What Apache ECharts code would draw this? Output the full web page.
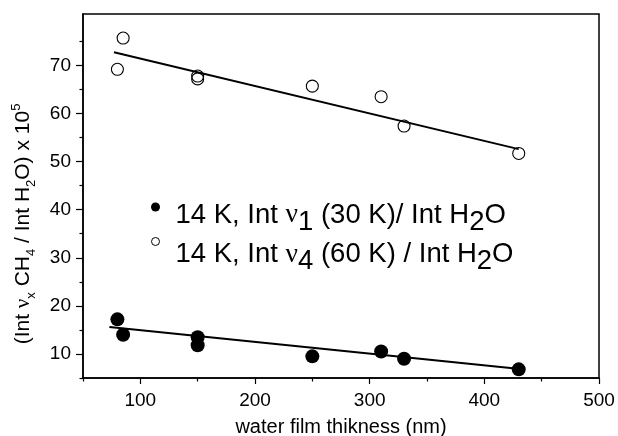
<!DOCTYPE html>
<html>
<head>
<meta charset="utf-8">
<script src="https://cdn.jsdelivr.net/npm/echarts@6/dist/echarts.min.js"></script>
<style>
html,body{margin:0;padding:0;background:#fff;}
#chart{width:618px;height:436px;}
</style>
</head>
<body>
<div id="chart"></div>
<script>
// ---- data ----
const filledX = [80, 85, 150, 150, 250, 310, 330, 430];
const filledY = [17.2, 14.0, 13.5, 11.8, 9.5, 10.5, 9.0, 6.8];
const openX = [80, 85, 150, 150, 250, 310, 330, 430];
const openY = [69.2, 75.7, 67.8, 67.2, 65.7, 63.5, 57.4, 51.7];
// fitted straight lines (end points)
const fitFilledX = [73, 427];
const fitFilledY = [15.6, 7.0];
const fitOpenX = [77, 430];
const fitOpenY = [72.75, 52.6];
// ticks
const xMajorTicks = [100, 200, 300, 400, 500];
const xMinorTicks = [50, 150, 250, 350, 450];
const yMajorTicks = [10, 20, 30, 40, 50, 60, 70];
const yMinorTicks = [5, 15, 25, 35, 45, 55, 65, 75];
const xRange = [50, 500];
const yRange = [5, 80.7];
const nameFilled = '14 K, Int v1 (30 K)/ Int H2O';
const nameOpen = '14 K, Int v4 (60 K) / Int H2O';

const pairs = (xs, ys) => xs.map((x, i) => [x, ys[i]]);
const FONT = 'Liberation Sans, Arial, sans-serif';

const chart = echarts.init(document.getElementById('chart'), null, {renderer: 'canvas'});

const legendRich = {
  m: {fontSize: 27.5, fontFamily: FONT, color: '#000', lineHeight: 31, verticalAlign: 'top'},
  nu: {fontSize: 27.5, fontFamily: 'Liberation Serif, serif', color: '#000', lineHeight: 31, verticalAlign: 'top'},
  s: {fontSize: 27.5, fontFamily: FONT, color: '#000', lineHeight: 31, verticalAlign: 'top', padding: [7, 0, 0, 0]}
};
function legendFmt(name) {
  if (name === nameFilled) return '{m|14 K, Int }{nu|ν}{s|1}{m| (30 K)/ Int H}{s|2}{m|O}';
  return '{m|14 K, Int }{nu|ν}{s|4}{m| (60 K) / Int H}{s|2}{m|O}';
}

const option = {
  backgroundColor: '#fff',
  animation: false,
  grid: {left: 83, right: 19, top: 14, bottom: 58, outerBoundsMode: 'none', containLabel: false,
         show: true, borderColor: '#000', borderWidth: 1.5, backgroundColor: 'transparent'},
  legend: [
    {
      data: [{name: nameFilled, icon: 'circle', itemStyle: {color: '#000'}, textStyle: {padding: [19, 0, 0, 0]}}],
      left: 151, top: 201, padding: 0, itemWidth: 30, itemHeight: 9,
      formatter: legendFmt, textStyle: {rich: legendRich}, selectedMode: false
    },
    {
      data: [{name: nameOpen, icon: 'circle', itemStyle: {color: '#fff', borderColor: '#000', borderWidth: 1}, textStyle: {padding: [29, 0, 0, 0]}}],
      left: 151, top: 237, padding: 0, itemWidth: 30, itemHeight: 8,
      formatter: legendFmt, textStyle: {rich: legendRich}, selectedMode: false
    }
  ],
  xAxis: [
    {
      type: 'value', min: xRange[0], max: xRange[1], position: 'bottom',
      name: 'water film thikness (nm)', nameLocation: 'middle', nameGap: 39,
      nameTextStyle: {fontSize: 20, fontFamily: FONT, color: '#000'},
      axisLine: {show: true, onZero: false, lineStyle: {color: '#000', width: 1.5}},
      axisTick: {show: true, customValues: xMajorTicks, length: 6, lineStyle: {color: '#000', width: 1.2}},
      axisLabel: {customValues: xMajorTicks, fontSize: 19, fontFamily: FONT, color: '#000', margin: 13},
      splitLine: {show: false}
    },
    {
      type: 'value', min: xRange[0], max: xRange[1], position: 'bottom',
      axisLine: {show: false},
      axisTick: {show: true, customValues: xMinorTicks, length: 3.5, lineStyle: {color: '#000', width: 1.2}},
      axisLabel: {show: false},
      splitLine: {show: false}
    }
  ],
  yAxis: [
    {
      type: 'value', min: yRange[0], max: yRange[1], position: 'left',
      name: '{t|(Int }{nu|ν}{sb|x}{t| CH}{sb|4}{t| / Int H}{sb|2}{t|O) x 10}{sp|5}',
      nameLocation: 'middle', nameGap: 49,
      nameTextStyle: {
        padding: [0, 56, 0, 0],
        rich: {
          t: {fontSize: 21, fontFamily: FONT, color: '#000', lineHeight: 24, verticalAlign: 'top', padding: [3, 0, 0, 0]},
          nu: {fontSize: 21, fontFamily: 'Liberation Serif, serif', color: '#000', lineHeight: 24, verticalAlign: 'top', padding: [3, 0, 0, 0]},
          sb: {fontSize: 13, fontFamily: FONT, color: '#000', lineHeight: 15, verticalAlign: 'top', padding: [15, 0, 0, 0]},
          sp: {fontSize: 13, fontFamily: FONT, color: '#000', lineHeight: 15, verticalAlign: 'top', padding: [0, 0, 0, 0]}
        }
      },
      axisLine: {show: true, onZero: false, lineStyle: {color: '#000', width: 1.5}},
      axisTick: {show: true, customValues: yMajorTicks, length: 7, lineStyle: {color: '#000', width: 1.2}},
      axisLabel: {customValues: yMajorTicks, fontSize: 19, fontFamily: FONT, color: '#000', margin: 12},
      splitLine: {show: false}
    },
    {
      type: 'value', min: yRange[0], max: yRange[1], position: 'left',
      axisLine: {show: false},
      axisTick: {show: true, customValues: yMinorTicks, length: 3.5, lineStyle: {color: '#000', width: 1.2}},
      axisLabel: {show: false},
      splitLine: {show: false}
    }
  ],
  series: [
    {
      name: 'fitFilled', type: 'line', data: pairs(fitFilledX, fitFilledY),
      symbol: 'none', lineStyle: {color: '#000', width: 2}, z: 1, silent: true
    },
    {
      name: 'fitOpen', type: 'line', data: pairs(fitOpenX, fitOpenY),
      symbol: 'none', lineStyle: {color: '#000', width: 2}, z: 1, silent: true
    },
    {
      name: nameFilled, type: 'scatter', data: pairs(filledX, filledY),
      symbol: 'circle', symbolSize: 14, itemStyle: {color: '#000', opacity: 1}, z: 3
    },
    {
      name: nameOpen, type: 'scatter', data: pairs(openX, openY),
      symbol: 'circle', symbolSize: 12,
      itemStyle: {color: 'rgba(255,255,255,0)', borderColor: '#000', borderWidth: 1.1, opacity: 1}, z: 3
    }
  ]
};
chart.setOption(option);
</script>
</body>
</html>
